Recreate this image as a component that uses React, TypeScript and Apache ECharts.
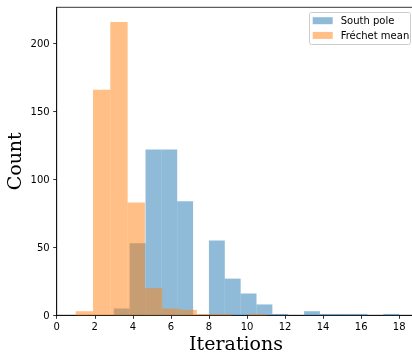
import React, { useEffect, useRef } from "react";
import * as echarts from "echarts";

// Histogram data (bin range + counts per bin)
const southPoleRange = [3, 18];
const southPoleCounts = [5, 53, 122, 122, 84, 0, 55, 27, 16, 8, 1, 0, 3, 1, 1, 1, 0, 1];
const frechetRange = [1, 11];
const frechetCounts = [3, 166, 216, 83, 20, 5, 4, 1, 1, 0, 1];
const xTicks = [0, 2, 4, 6, 8, 10, 12, 14, 16, 18];
const yTicks = [0, 50, 100, 150, 200];
const seriesNames = ["South pole", "Fréchet mean"];

function toBins(range: number[], counts: number[]) {
  const w = (range[1] - range[0]) / counts.length;
  return counts.map((c, i) => [range[0] + i * w, range[0] + (i + 1) * w, c]);
}

export default function App() {
  const ref = useRef<HTMLDivElement>(null);
  useEffect(() => {
    if (!ref.current) return;
    const chart = echarts.init(ref.current, null, { renderer: "svg" });
    const mkRender = (color: string) => (params: any, api: any) => {
      const x0 = api.value(0);
      const x1 = api.value(1);
      const h = api.value(2);
      if (!h) return null;
      const p0 = api.coord([x0, h]);
      const p1 = api.coord([x1, 0]);
      return {
        type: "rect",
        shape: { x: p0[0], y: p0[1], width: p1[0] - p0[0], height: p1[1] - p0[1] },
        style: { fill: color, opacity: 0.5 },
      };
    };
    const axisCommon = {
      axisLine: { show: true, lineStyle: { color: "#000", width: 0.8 } },
      axisTick: { show: true, length: 3.5, lineStyle: { color: "#000", width: 0.8 } },
      splitLine: { show: false },
    };
    chart.setOption({
      animation: false,
      textStyle: { fontFamily: "DejaVu Sans" },
      grid: {
        left: 56.7,
        top: 7.3,
        width: 358.7,
        height: 308,
        containLabel: false,
        outerBoundsMode: "none",
        show: true,
        borderColor: "#000",
        borderWidth: 0.8,
        backgroundColor: "transparent",
      },
      xAxis: {
        type: "value",
        min: 0,
        max: 18.85,
        ...axisCommon,
        axisTick: { ...axisCommon.axisTick, customValues: xTicks },
        axisLabel: {
          customValues: xTicks,
          margin: 6,
          fontSize: 10,
          color: "#000",
          fontFamily: "DejaVu Sans",
        },
        name: "Iterations",
        nameLocation: "middle",
        nameGap: 18,
        nameMoveOverlap: false,
        nameTextStyle: { fontFamily: "DejaVu Serif", fontSize: 19, color: "#000" },
      },
      yAxis: {
        type: "value",
        min: 0,
        max: 226.8,
        ...axisCommon,
        axisTick: { ...axisCommon.axisTick, customValues: yTicks },
        axisLabel: {
          customValues: yTicks,
          margin: 7,
          fontSize: 10,
          color: "#000",
          fontFamily: "DejaVu Sans",
        },
        name: "Count",
        nameLocation: "middle",
        nameGap: 33,
        nameMoveOverlap: false,
        nameTextStyle: { fontFamily: "DejaVu Serif", fontSize: 19, color: "#000" },
      },
      graphic: [
        {
          type: "rect",
          z: 3,
          shape: { x: 309.5, y: 12.5, width: 101, height: 32, r: 2 },
          style: { fill: "rgba(255,255,255,0.8)", stroke: "#cccccc", lineWidth: 1 },
        },
      ],
      legend: {
        z: 5,
        orient: "vertical",
        left: 312.7,
        top: 14.7,
        padding: 0,
        itemWidth: 20,
        itemHeight: 7,
        itemGap: 2.7,
        icon: "rect",
        textStyle: { fontSize: 10, lineHeight: 12, color: "#000", fontFamily: "DejaVu Sans", padding: [0, 0, 0, 3] },
        data: [
          { name: seriesNames[0], itemStyle: { color: "#8fbbd9" } },
          { name: seriesNames[1], itemStyle: { color: "#ffbf86" } },
        ],
      },
      series: [
        {
          name: seriesNames[0],
          type: "custom",
          renderItem: mkRender("#1f77b4"),
          encode: { x: [0, 1], y: 2 },
          itemStyle: { color: "#8fbbd9" },
          data: toBins(southPoleRange, southPoleCounts),
        },
        {
          name: seriesNames[1],
          type: "custom",
          renderItem: mkRender("#ff7f0e"),
          encode: { x: [0, 1], y: 2 },
          itemStyle: { color: "#ffbf86" },
          data: toBins(frechetRange, frechetCounts),
        },
      ],
    });
    return () => chart.dispose();
  }, []);
  return (
    <div
      ref={ref}
      style={{ position: "fixed", left: 0, top: 0, width: 420, height: 357 }}
    />
  );
}
